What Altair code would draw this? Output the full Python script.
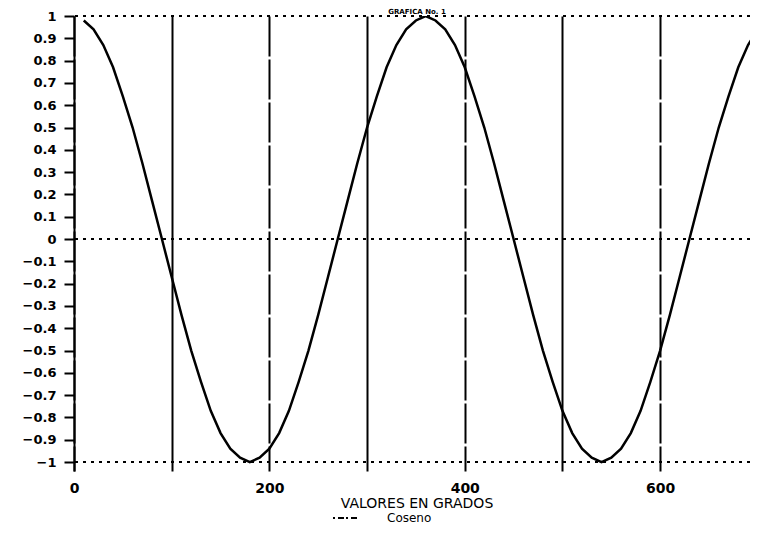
import altair as alt
import pandas as pd

# --- data ---
grados = list(range(10, 701, 10))
coseno = [0.98, 0.94, 0.87, 0.77, 0.64, 0.50, 0.34, 0.17, 0.00,
          -0.17, -0.34, -0.50, -0.64, -0.77, -0.87, -0.94, -0.98, -1.00,
          -0.98, -0.94, -0.87, -0.77, -0.64, -0.50, -0.34, -0.17, 0.00,
          0.17, 0.34, 0.50, 0.64, 0.77, 0.87, 0.94, 0.98, 1.00,
          0.98, 0.94, 0.87, 0.77, 0.64, 0.50, 0.34, 0.17, 0.00,
          -0.17, -0.34, -0.50, -0.64, -0.77, -0.87, -0.94, -0.98, -1.00,
          -0.98, -0.94, -0.87, -0.77, -0.64, -0.50, -0.34, -0.17, 0.00,
          0.17, 0.34, 0.50, 0.64, 0.77, 0.87, 0.94]
x_ticks = [0, 100, 200, 300, 400, 500, 600]
y_ticks = [1, 0.9, 0.8, 0.7, 0.6, 0.5, 0.4, 0.3, 0.2, 0.1, 0,
           -0.1, -0.2, -0.3, -0.4, -0.5, -0.6, -0.7, -0.8, -0.9, -1]
ref_lines = [1, 0, -1]
titulo = ["GRAFICA No. 1"]
eje_x_titulo = ["VALORES  EN  GRADOS"]
leyenda = ["Coseno"]

df = pd.DataFrame({"grados": grados, "coseno": coseno})

FONT = "DejaVu Sans"

xscale = alt.Scale(domain=[0, 692], nice=False, zero=False)
yscale = alt.Scale(domain=[-1.04, 1], nice=False, zero=False)

xaxis = alt.Axis(
    values=x_ticks, title=None, domain=False, ticks=False,
    grid=True, gridColor="black", gridWidth=2, gridOpacity=1,
    gridDash={"condition": {"test": "datum.value % 200 == 0", "value": [40, 3]}, "value": []},
    labelExpr="datum.value % 200 == 0 ? datum.label : ''",
    format="d", labelFont=FONT, labelFontSize=14, labelFontWeight="bold",
    labelColor="black", labelPadding=10, labelFlush=False, labelOverlap=False,
)
yaxis = alt.Axis(
    values=y_ticks, title=None, grid=False,
    domain=True, domainColor="black", domainWidth=2,
    ticks=True, tickColor="black", tickWidth=2, tickSize=10,
    labelExpr="datum.value == 0 ? '0' : (abs(datum.value) > 0.99 ? format(datum.value, 'd') : format(datum.value, '.1f'))",
    labelFont=FONT, labelFontSize=13, labelFontWeight="bold",
    labelColor="black", labelPadding=8, labelFlush=False, labelOverlap=False,
)

curve = alt.Chart(df).mark_line(color="black", strokeWidth=2.5, clip=True).encode(
    x=alt.X("grados:Q", scale=xscale, axis=xaxis),
    y=alt.Y("coseno:Q", scale=yscale, axis=yaxis),
)

rules = alt.Chart(pd.DataFrame({"coseno": ref_lines})).mark_rule(
    color="black", strokeWidth=2, strokeDash=[3, 5]
).encode(y=alt.Y("coseno:Q", scale=yscale, axis=yaxis))

title_txt = alt.Chart(pd.DataFrame({"t": titulo})).mark_text(
    font=FONT, fontSize=7, fontWeight="bold", align="center", baseline="bottom", color="black"
).encode(x=alt.value(343), y=alt.value(-1), text="t:N")

xtitle_txt = alt.Chart(pd.DataFrame({"t": eje_x_titulo})).mark_text(
    font=FONT, fontSize=14, align="center", baseline="middle", color="black"
).encode(x=alt.value(343), y=alt.value(488), text="t:N")

legend_sym = alt.Chart(pd.DataFrame({"t": leyenda})).mark_rule(
    color="black", strokeWidth=2, strokeDash=[2, 3, 6, 2]
).encode(x=alt.value(259), x2=alt.value(283), y=alt.value(502))

legend_txt = alt.Chart(pd.DataFrame({"t": leyenda})).mark_text(
    font=FONT, fontSize=12, align="left", baseline="middle", color="black"
).encode(x=alt.value(313), y=alt.value(502), text="t:N")

chart = alt.layer(rules, curve, title_txt, xtitle_txt, legend_sym, legend_txt).properties(
    width=676, height=455,
    padding={"left": 66, "top": 8, "right": 0, "bottom": 55},
    autosize=alt.AutoSizeParams(type="none"),
    background="white",
).configure_view(stroke=None)

chart.save("out.html", embed_options={"renderer": "svg", "actions": False})
